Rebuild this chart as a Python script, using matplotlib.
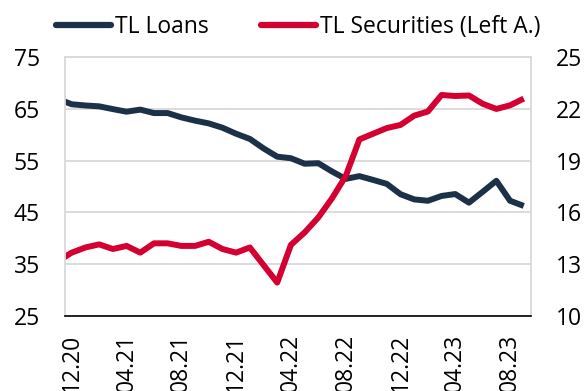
import numpy as np
import matplotlib.pyplot as plt
from matplotlib.lines import Line2D

plt.rcParams['font.family'] = ['Open Sans', 'DejaVu Sans']
plt.rcParams['font.size'] = 16.5

# monthly observations, Nov 2020 - Sep 2023, placed mid-month (0 = start of Dec 2020)
month_pos = np.arange(-1, 34) + 0.5

# TL securities share, left axis
securities = [35.6, 37.2, 38.2, 38.8, 37.9, 38.5, 37.2, 39.0, 39.0, 38.5,
              38.5, 39.3, 37.9, 37.2, 38.2, 34.8, 31.4, 38.7, 41.1, 44.0,
              47.7, 52.0, 59.1, 60.2, 61.3, 61.9, 63.7, 64.5, 67.7, 67.5,
              67.6, 66.0, 65.0, 65.7, 67.0]

# TL loans share, right axis
loans = [22.57, 22.27, 22.20, 22.15, 21.99, 21.84, 21.96, 21.76, 21.76, 21.51,
         21.32, 21.16, 20.91, 20.56, 20.26, 19.71, 19.23, 19.14, 18.82, 18.85,
         18.37, 17.94, 18.10, 17.88, 17.65, 17.05, 16.75, 16.67, 16.95, 17.06,
         16.56, 17.19, 17.83, 16.67, 16.37]

tick_labels = ['12.20', '04.21', '08.21', '12.21', '04.22',
               '08.22', '12.22', '04.23', '08.23']
tick_months = np.arange(0, 33, 4)

navy = '#1c3048'
red = '#d50032'
grid_c = '#d9d9d9'

fig = plt.figure(figsize=(5.85, 3.91), dpi=100)
ax = fig.add_axes([0.111, 0.1926, 0.796, 0.661])
ax2 = ax.twinx()
# securities line sits above the loans line
ax.set_zorder(2)
ax2.set_zorder(1)
ax.patch.set_visible(False)

ax2.plot(month_pos, loans, color=navy, lw=4.3,
         solid_joinstyle='round', solid_capstyle='butt')
ax.plot(month_pos, securities, color=red, lw=4.3,
        solid_joinstyle='round', solid_capstyle='butt')

ax.set_xlim(0, 34)
ax.set_ylim(25, 75)
ax.set_yticks(np.arange(25, 76, 10))
ax2.set_ylim(10, 25)
ax2.set_yticks(np.arange(10, 26, 3))

ax.set_xticks(tick_months)
ax.set_xticklabels([])
ax.set_xticks(tick_months + 0.5, minor=True)
ax.set_xticklabels(tick_labels, minor=True, rotation=90)

ax2.grid(True, color=grid_c, lw=1.3)
ax2.set_axisbelow(True)

ax.tick_params(axis='x', which='both', length=0, pad=13)
ax.tick_params(axis='y', length=0, pad=18)
ax2.tick_params(axis='y', length=0, pad=18)

for name, sp in ax.spines.items():
    sp.set_color(grid_c)
    sp.set_linewidth(1.3)
ax.spines['bottom'].set_color('black')
ax.spines['bottom'].set_linewidth(1.2)
for sp in ax2.spines.values():
    sp.set_visible(False)

handles = [Line2D([], [], color=navy, lw=4.5, solid_capstyle='round'),
           Line2D([], [], color=red, lw=4.5, solid_capstyle='round')]
fig.legend(handles, ['TL Loans', 'TL Securities (Left A.)'],
           loc='center', bbox_to_anchor=(0.51, 0.93), ncol=2, frameon=False,
           handlelength=2.4, handletextpad=0.15, columnspacing=2.3,
           borderaxespad=0, borderpad=0)

fig.savefig('out.png', dpi=100)
